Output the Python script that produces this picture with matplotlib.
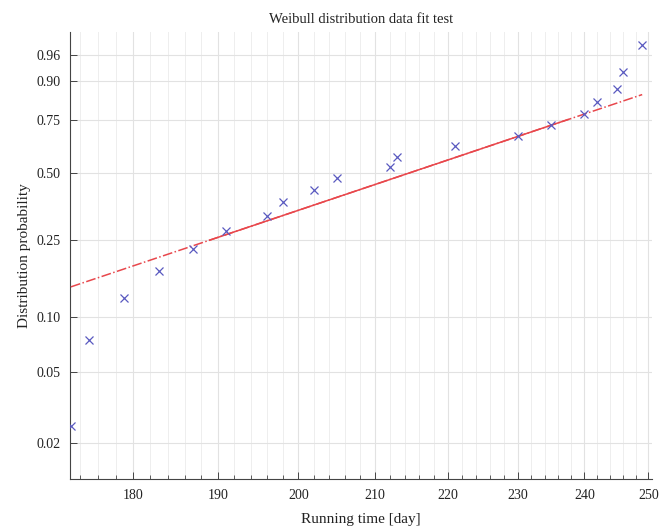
import numpy as np
import matplotlib
matplotlib.use("Agg")
import matplotlib.pyplot as plt
from matplotlib.ticker import FixedLocator, FixedFormatter, NullFormatter

# Data (running time in days), sorted failure times
running_time = [173, 175, 179, 183, 187, 191, 196, 198, 202, 205,
                212, 213, 221, 230, 235, 240, 242, 245, 246, 249]
x_ticks = [180, 190, 200, 210, 220, 230, 240, 250]
x_minor_ticks = list(range(174, 251, 2))
y_ticks = [0.02, 0.05, 0.10, 0.25, 0.50, 0.75, 0.90, 0.96]
y_tick_labels = ["0.02", "0.05", "0.10", "0.25", "0.50", "0.75", "0.90", "0.96"]

plt.rcParams['font.family'] = ['Liberation Serif', 'DejaVu Serif']

x = np.array(running_time, dtype=float)
n = len(x)
p = (np.arange(1, n + 1) - 0.5) / n


def fwd(pp):
    pp = np.clip(pp, 1e-9, 1 - 1e-9)
    return np.log(-np.log(1 - pp))


def inv(t):
    return 1 - np.exp(-np.exp(t))


# Quartile reference line (as in MATLAB wblplot)
lx = np.log(x)
ty = fwd(p)
q1x, q3x = np.mean(lx[4:6]), np.mean(lx[14:16])
q1y, q3y = np.mean(ty[4:6]), np.mean(ty[14:16])
slope = (q3y - q1y) / (q3x - q1x)
cx, cy = (q1x + q3x) / 2, (q1y + q3y) / 2
ext_lx = np.array([lx.min(), lx.max()])
ext_ty = cy + slope * (ext_lx - cx)

fig = plt.figure(figsize=(6.69, 5.26), dpi=100)
ax = fig.add_axes([0.1046, 0.0894, 0.8694, 0.8503])
ax.set_xscale('log')
ax.set_yscale('function', functions=(fwd, inv))

ax.plot(np.exp(ext_lx), inv(ext_ty), linestyle='-.', color='#e8474c', lw=1.1, zorder=3)
ax.plot(np.exp([q1x, q3x]), inv(np.array([q1y, q3y])), linestyle='-', color='#e8474c', lw=1.1, zorder=3)
ax.plot(x, p, linestyle='none', marker='x', color='#5a5ac0', markersize=5.5, mew=0.9, zorder=4)

ax.set_xlim(172.9, 250.5)
ax.set_ylim(0.0125, 0.9875)

ax.xaxis.set_major_locator(FixedLocator(x_ticks))
ax.xaxis.set_major_formatter(FixedFormatter([str(v) for v in x_ticks]))
ax.xaxis.set_minor_locator(FixedLocator(x_minor_ticks))
ax.xaxis.set_minor_formatter(NullFormatter())
ax.yaxis.set_major_locator(FixedLocator(y_ticks))
ax.yaxis.set_major_formatter(FixedFormatter(y_tick_labels))
ax.yaxis.set_minor_locator(FixedLocator([]))

ax.grid(True, which='major', color='#e2e2e2', lw=0.8)
ax.grid(True, which='minor', axis='x', color='#eeeeee', lw=0.7)
ax.set_axisbelow(True)

for s in ['top', 'right']:
    ax.spines[s].set_visible(False)
for s in ['left', 'bottom']:
    ax.spines[s].set_color('#444444')
    ax.spines[s].set_linewidth(0.8)

ax.tick_params(which='major', direction='in', length=5, width=0.7, color='#444444',
               labelsize=10, labelcolor='#222222', pad=7)
ax.tick_params(which='minor', direction='in', length=3, width=0.6, color='#444444')

ax.set_title('Weibull distribution data fit test', fontsize=10.5, color='#222222', pad=6)
ax.set_xlabel('Running time [day]', fontsize=11, color='#222222', labelpad=8)
ax.set_ylabel('Distribution probability', fontsize=11, color='#222222', labelpad=4)

fig.savefig('out.png', dpi=100)
